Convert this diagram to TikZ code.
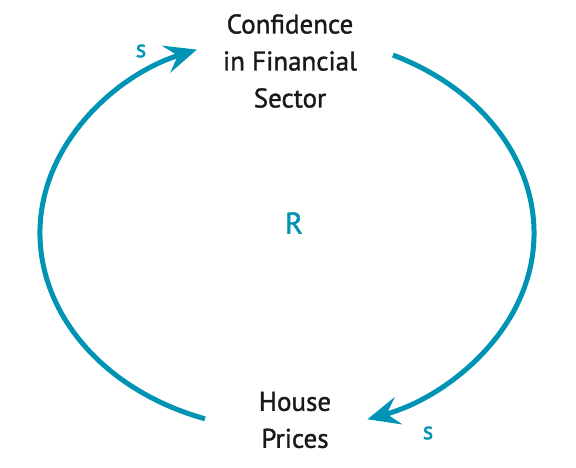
\documentclass[tikz,border=0pt]{standalone}
\usepackage{fontspec}
\setmainfont{PT Sans}
\newfontfamily\heavyfont{PT Sans}[UprightFeatures={FakeBold=1.3}]
\usetikzlibrary{arrows.meta}
\definecolor{loopteal}{RGB}{0,148,180}
\tikzset{
  var/.style={align=center, text=black!90, font=\heavyfont\fontsize{27}{37}\selectfont, inner sep=0pt},
  link/.style={draw=loopteal, line width=5pt, -{Stealth[length=32pt, width=28pt, inset=12pt]}},
  pol/.style={text=loopteal, font=\heavyfont\fontsize{25}{25}\selectfont, inner sep=0pt},
}
\begin{document}
\begin{tikzpicture}[x=1pt,y=1pt]
\useasboundingbox (0,0) rectangle (576,467);
\node[var] (conf) at (290,406) {Confidence\\in Financial\\Sector};
\node[var] (house) at (295,47) {House\\Prices};
\coordinate (c) at (287,234);
\draw[link] (c) ++(64.6:247 and 197) arc[start angle=64.6, end angle=-71, x radius=247, y radius=197];
\draw[link] (c) ++(-109.4:247 and 197) arc[start angle=-109.4, end angle=-248.6, x radius=247, y radius=197];
\node[pol] (s1) at (141,416) {s};
\node[pol] (s2) at (428,34) {s};
\node[text=loopteal, font=\heavyfont\fontsize{30}{30}\selectfont, inner sep=0pt] (loop) at (294,244) {R};
\end{tikzpicture}
\end{document}
